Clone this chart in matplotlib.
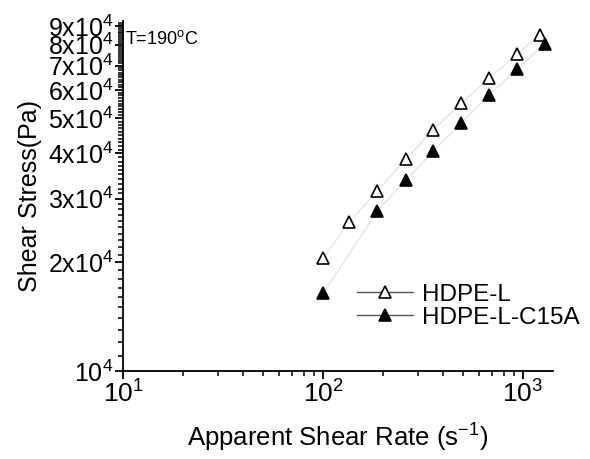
import numpy as np
import matplotlib
matplotlib.use("Agg")
from matplotlib import pyplot as plt
from matplotlib.lines import Line2D
from matplotlib.ticker import FixedLocator, FixedFormatter, NullFormatter

plt.rcParams['font.family'] = ['Liberation Sans', 'DejaVu Sans']
plt.rcParams['mathtext.fontset'] = 'custom'
plt.rcParams['mathtext.rm'] = 'Liberation Sans'

# data
rate_l = [100, 135, 187, 259, 356, 492, 678, 938, 1216]
stress_l = [20500, 25800, 31500, 38500, 46500, 55200, 64600, 75500, 85100]
rate_c = [100, 187, 259, 356, 492, 678, 938, 1285]
stress_c = [16400, 27700, 33700, 40600, 48500, 58200, 68600, 80400]

y_major = [1e4, 2e4, 3e4, 4e4, 5e4, 6e4, 7e4, 8e4, 9e4]
y_labels = ['10$^4$'] + ['%dx10$^4$' % i for i in range(2, 10)]

fig = plt.figure(figsize=(5.9, 4.59), dpi=100)
ax = fig.add_axes([0.2085, 0.1917, 0.7285, 0.7623])

ax.plot(rate_l, stress_l, color='#e6e6e6', lw=1, zorder=1)
ax.plot(rate_c, stress_c, color='#e6e6e6', lw=1, zorder=1)
ax.plot(rate_l, stress_l, ls='none', marker='^', ms=9, mfc='white', mec='black', mew=1.2, zorder=3)
ax.plot(rate_c, stress_c, ls='none', marker='^', ms=9, mfc='black', mec='black', mew=1.2, zorder=3)

ax.set_xscale('log')
ax.set_yscale('log')
ax.set_xlim(10, 1410)
ax.set_ylim(1e4, 9.3e4)

ax.yaxis.set_major_locator(FixedLocator(y_major))
ax.yaxis.set_major_formatter(FixedFormatter(y_labels))
ax.yaxis.set_minor_locator(FixedLocator(np.arange(1.1e4, 9.3e4, 1e3)))
ax.yaxis.set_minor_formatter(NullFormatter())

ax.spines['top'].set_visible(False)
ax.spines['right'].set_visible(False)
for s in ['left', 'bottom']:
    ax.spines[s].set_linewidth(1.3)
ax.tick_params(which='major', length=6, width=1.3, labelsize=19, pad=1)
ax.tick_params(axis='y', which='major', labelsize=18)
ax.tick_params(which='minor', length=3.5, width=1.1)

ax.set_xlabel('Apparent Shear Rate (s$^{-1}$)', fontsize=18.5, labelpad=9)
ax.set_ylabel('Shear Stress(Pa)', fontsize=18, labelpad=4)

ax.text(0.005, 0.975, 'T=190$^{\\mathrm{o}}$C', transform=ax.transAxes, fontsize=13,
        ha='left', va='top')

handles = [
    Line2D([], [], color='#555555', lw=1, marker='^', ms=9, mfc='white', mec='black', mew=1.2),
    Line2D([], [], color='#555555', lw=1, marker='^', ms=9, mfc='black', mec='black', mew=1.2),
]
ax.legend(handles, ['HDPE-L', 'HDPE-L-C15A'], loc='upper left', bbox_to_anchor=(0.544, 0.25),
          frameon=False, fontsize=17.5, handlelength=2.3, handletextpad=0.4,
          labelspacing=0.05, borderaxespad=0, borderpad=0)

fig.savefig('out.png', dpi=100)
